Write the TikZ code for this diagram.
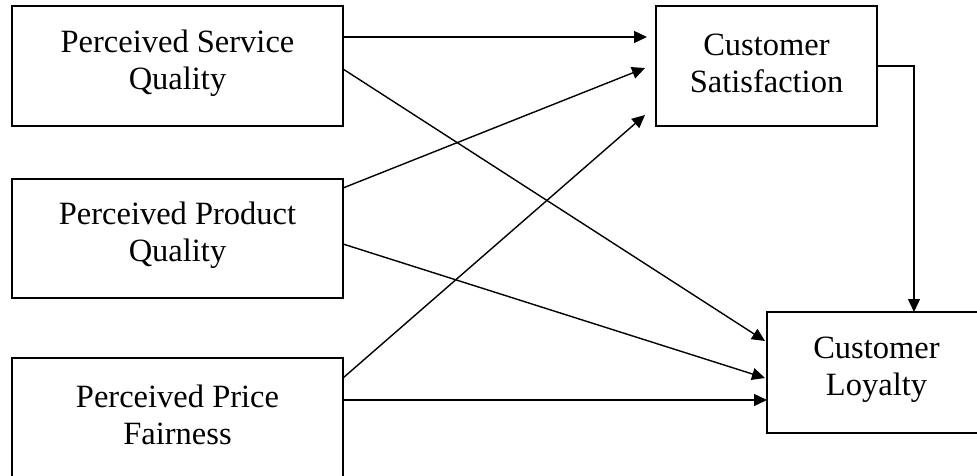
\documentclass[tikz,border=0pt]{standalone}
\usepackage{fontspec}
\setmainfont{Liberation Serif}
\usetikzlibrary{arrows.meta}
\begin{document}
\begin{tikzpicture}[x=1pt,y=-1pt,
  box/.style={draw,line width=1.5pt,rectangle,outer sep=0pt},
  lbl/.style={align=center,inner sep=0pt,font=\fontsize{32.5}{37}\selectfont},
  arr/.style={line width=1.4pt,-{Triangle[length=13pt,width=12pt]}}]
\useasboundingbox (0,0) rectangle (977,476);
\clip (0,0) rectangle (977,476);
\node[box,minimum width=331pt,minimum height=120pt] (psq) at (177.5,66) {};
\node[box,minimum width=331pt,minimum height=119pt] (ppq) at (177.5,238.5) {};
\node[box,minimum width=331pt,minimum height=120pt] (ppf) at (177.5,418) {};
\node[box,minimum width=221pt,minimum height=120pt] (cs) at (766.5,66) {};
\node[box,minimum width=219pt,minimum height=121pt] (cl) at (876.5,372.5) {};
\node[lbl] (psqt) at ([yshift=3pt]psq.center) {Perceived Service\\Quality};
\node[lbl] (ppqt) at ([yshift=3pt]ppq.center) {Perceived Product\\Quality};
\node[lbl] (ppft) at ([yshift=3pt]ppf.center) {Perceived Price\\Fairness};
\node[lbl] (cst) at ([yshift=3pt]cs.center) {Customer\\Satisfaction};
\node[lbl] (clt) at ([yshift=3pt]cl.center) {Customer\\Loyalty};
\draw[arr] ([yshift=29pt]psq.east) -- ([xshift=-9pt,yshift=29pt]cs.west);
\draw[arr] ([yshift=-3pt]psq.east) -- ([xshift=-2pt,yshift=31.5pt]cl.west);
\draw[arr] ([yshift=50.5pt]ppq.east) -- ([xshift=-11pt,yshift=-2pt]cs.west);
\draw[arr] ([yshift=-5.5pt]ppq.east) -- ([xshift=-2pt,yshift=-5.5pt]cl.west);
\draw[arr] ([yshift=40pt]ppf.east) -- ([xshift=-11pt,yshift=-49pt]cs.west);
\draw[arr] ([yshift=18pt]ppf.east) -- ([yshift=-27.5pt]cl.west);
\draw[arr] (cs.east) -| ([xshift=37.5pt]cl.north);
\end{tikzpicture}
\end{document}
